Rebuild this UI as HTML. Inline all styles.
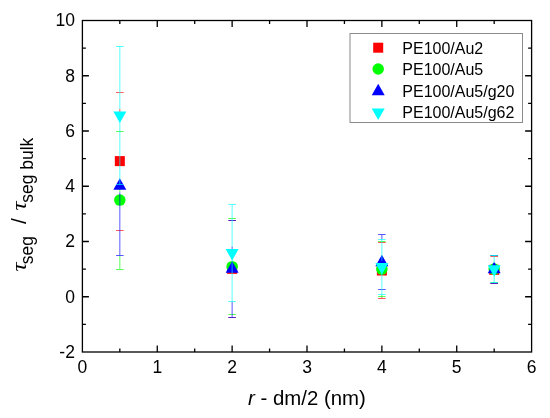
<!DOCTYPE html>
<html><head><meta charset="utf-8"><style>
html,body{margin:0;padding:0;background:#fff;}
body{width:550px;height:418px;overflow:hidden;}
svg{display:block;will-change:transform;}
text{font-family:"Liberation Sans",sans-serif;fill:#000;}
.t{font-size:17.5px;}
.xt{font-size:20.4px;}
.tau{font-family:"Liberation Serif",serif;font-style:italic;font-size:23px;}
.sub{font-size:17.5px;}
.sl{font-size:21px;}
.lg{font-size:16px;}
</style></head><body>
<svg width="550" height="418" viewBox="0 0 550 418">
<rect x="82.4" y="20.5" width="449.20000000000005" height="331.5" fill="none" stroke="#000" stroke-width="1.3"/>
<path d="M119.83 352.0v-3.5M119.83 20.5v3.5M157.27 352.0v-6.5M157.27 20.5v6.5M194.70 352.0v-3.5M194.70 20.5v3.5M232.13 352.0v-6.5M232.13 20.5v6.5M269.57 352.0v-3.5M269.57 20.5v3.5M307.00 352.0v-6.5M307.00 20.5v6.5M344.43 352.0v-3.5M344.43 20.5v3.5M381.87 352.0v-6.5M381.87 20.5v6.5M419.30 352.0v-3.5M419.30 20.5v3.5M456.73 352.0v-6.5M456.73 20.5v6.5M494.17 352.0v-3.5M494.17 20.5v3.5M82.4 324.38h3.5M531.6 324.38h-3.5M82.4 296.75h6.5M531.6 296.75h-6.5M82.4 269.12h3.5M531.6 269.12h-3.5M82.4 241.50h6.5M531.6 241.50h-6.5M82.4 213.88h3.5M531.6 213.88h-3.5M82.4 186.25h6.5M531.6 186.25h-6.5M82.4 158.62h3.5M531.6 158.62h-3.5M82.4 131.00h6.5M531.6 131.00h-6.5M82.4 103.38h3.5M531.6 103.38h-3.5M82.4 75.75h6.5M531.6 75.75h-6.5M82.4 48.12h3.5M531.6 48.12h-3.5" stroke="#000" stroke-width="1.3" fill="none"/>
<text x="74.9" y="357.85" text-anchor="end" class="t">-2</text>
<text x="74.9" y="302.60" text-anchor="end" class="t">0</text>
<text x="74.9" y="247.35" text-anchor="end" class="t">2</text>
<text x="74.9" y="192.10" text-anchor="end" class="t">4</text>
<text x="74.9" y="136.85" text-anchor="end" class="t">6</text>
<text x="74.9" y="81.60" text-anchor="end" class="t">8</text>
<text x="74.9" y="26.35" text-anchor="end" class="t">10</text>
<text x="82.40" y="373" text-anchor="middle" class="t">0</text>
<text x="157.27" y="373" text-anchor="middle" class="t">1</text>
<text x="232.13" y="373" text-anchor="middle" class="t">2</text>
<text x="307.00" y="373" text-anchor="middle" class="t">3</text>
<text x="381.87" y="373" text-anchor="middle" class="t">4</text>
<text x="456.73" y="373" text-anchor="middle" class="t">5</text>
<text x="531.60" y="373" text-anchor="middle" class="t">6</text>
<text x="248" y="405.4" class="xt"><tspan font-style="italic">r</tspan> - dm/2 (nm)</text>
<g transform="translate(26,271) rotate(-90)"><text transform="translate(-0.60,0) scale(1.08,0.9)" class="tau">&#964;</text><text x="6.80" y="6.90" class="sub">seg</text><text x="47.10" y="0.00" class="sl">/</text><text transform="translate(60.40,0) scale(1.08,0.9)" class="tau">&#964;</text><text x="68.20" y="6.90" class="sub">seg bulk</text></g>
<path d="M119.83 108.95V116.91M116.03 92.50h7.6M116.03 230.50h7.6" stroke="#ff0000" stroke-width="1" stroke-opacity="0.65" fill="none"/>
<rect x="114.83" y="156.11" width="10.0" height="10.0" fill="#ff0000"/>
<path d="M228.33 220.50h7.6M228.33 317.50h7.6" stroke="#ff0000" stroke-width="1" stroke-opacity="0.65" fill="none"/>
<rect x="227.13" y="263.85" width="10.0" height="10.0" fill="#ff0000"/>
<path d="M381.87 262.82V264.21M381.87 296.75V298.13M378.07 242.50h7.6M378.07 298.50h7.6" stroke="#ff0000" stroke-width="1" stroke-opacity="0.65" fill="none"/>
<rect x="376.87" y="265.51" width="10.0" height="10.0" fill="#ff0000"/>
<path d="M494.17 263.10V263.52M494.17 283.21V283.63M490.37 256.50h7.6M490.37 283.50h7.6" stroke="#ff0000" stroke-width="1" stroke-opacity="0.65" fill="none"/>
<rect x="489.17" y="264.82" width="10.0" height="10.0" fill="#ff0000"/>
<path d="M119.83 184.32V192.27M119.83 255.04V269.12M116.03 131.50h7.6M116.03 269.50h7.6" stroke="#00ff00" stroke-width="1" stroke-opacity="0.65" fill="none"/>
<circle cx="119.83" cy="200.06" r="5.75" fill="#00ff00"/>
<path d="M228.33 218.50h7.6M228.33 314.50h7.6" stroke="#00ff00" stroke-width="1" stroke-opacity="0.65" fill="none"/>
<circle cx="232.13" cy="266.64" r="5.75" fill="#00ff00"/>
<path d="M381.87 260.61V262.82M381.87 294.54V296.75M378.07 241.50h7.6M378.07 296.50h7.6" stroke="#00ff00" stroke-width="1" stroke-opacity="0.65" fill="none"/>
<circle cx="381.87" cy="269.12" r="5.75" fill="#00ff00"/>
<path d="M490.37 255.50h7.6M490.37 282.50h7.6" stroke="#00ff00" stroke-width="1" stroke-opacity="0.65" fill="none"/>
<circle cx="494.17" cy="269.12" r="5.75" fill="#00ff00"/>
<path d="M119.83 116.91V121.55M119.83 192.27V255.04M116.03 255.50h7.6" stroke="#0000ff" stroke-width="1" stroke-opacity="0.65" fill="none"/>
<path d="M119.83 178.31L126.33 189.81L113.33 189.81Z" fill="#0000ff"/>
<path d="M232.13 246.53V259.13M232.13 301.31V317.47M228.33 220.50h7.6M228.33 317.50h7.6" stroke="#0000ff" stroke-width="1" stroke-opacity="0.65" fill="none"/>
<path d="M232.13 261.18L238.63 272.68L225.63 272.68Z" fill="#0000ff"/>
<path d="M381.87 234.73V239.29M381.87 268.66V273.21M378.07 234.50h7.6M378.07 289.50h7.6" stroke="#0000ff" stroke-width="1" stroke-opacity="0.65" fill="none"/>
<path d="M381.87 254.69L388.37 266.19L375.37 266.19Z" fill="#0000ff"/>
<path d="M490.37 255.50h7.6M490.37 283.50h7.6" stroke="#0000ff" stroke-width="1" stroke-opacity="0.65" fill="none"/>
<path d="M494.17 261.73L500.67 273.23L487.67 273.23Z" fill="#0000ff"/>
<path d="M119.83 46.19V108.95M119.83 121.55V184.32M116.03 46.50h7.6M116.03 184.50h7.6" stroke="#00ffff" stroke-width="1" stroke-opacity="0.65" fill="none"/>
<path d="M113.33 111.42L126.33 111.42L119.83 122.92Z" fill="#00ffff"/>
<path d="M232.13 204.34V246.53M232.13 259.13V301.31M228.33 204.50h7.6M228.33 301.50h7.6" stroke="#00ffff" stroke-width="1" stroke-opacity="0.65" fill="none"/>
<path d="M225.63 248.99L238.63 248.99L232.13 260.49Z" fill="#00ffff"/>
<path d="M381.87 239.29V260.61M381.87 273.21V294.54M378.07 239.50h7.6M378.07 294.50h7.6" stroke="#00ffff" stroke-width="1" stroke-opacity="0.65" fill="none"/>
<path d="M375.37 263.08L388.37 263.08L381.87 274.58Z" fill="#00ffff"/>
<path d="M494.17 255.31V262.82M494.17 275.43V282.94M490.37 255.50h7.6M490.37 282.50h7.6" stroke="#00ffff" stroke-width="1" stroke-opacity="0.65" fill="none"/>
<path d="M487.67 265.29L500.67 265.29L494.17 276.79Z" fill="#00ffff"/>
<rect x="350" y="33.5" width="172.5" height="89" fill="#fff" stroke="#8a8a8a" stroke-width="1"/>
<rect x="373.20" y="42.70" width="10.0" height="10.0" fill="#ff0000"/>
<text x="402.3" y="53.90" class="lg">PE100/Au2</text>
<circle cx="378.20" cy="69.00" r="5.75" fill="#00ff00"/>
<text x="402.3" y="75.30" class="lg">PE100/Au5</text>
<path d="M378.20 83.63L384.70 95.13L371.70 95.13Z" fill="#0000ff"/>
<text x="402.3" y="96.90" class="lg">PE100/Au5/g20</text>
<path d="M371.70 108.47L384.70 108.47L378.20 119.97Z" fill="#00ffff"/>
<text x="402.3" y="118.40" class="lg">PE100/Au5/g62</text>
</svg>
</body></html>
